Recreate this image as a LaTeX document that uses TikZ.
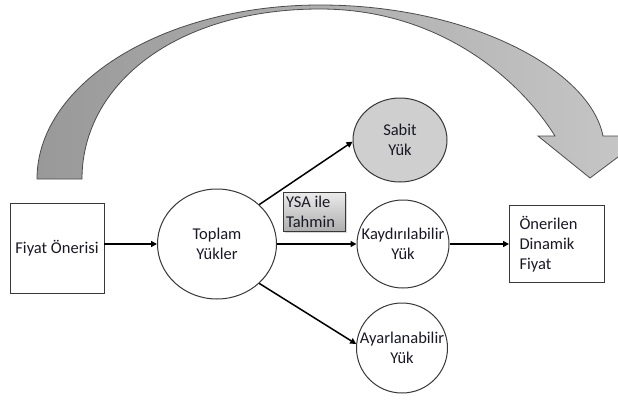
\documentclass[tikz,border=0pt]{standalone}
\usepackage{fontspec}
\setmainfont{Carlito}
\usetikzlibrary{arrows.meta,shapes.geometric,shadows}
\definecolor{ink}{rgb}{0.10,0.10,0.15}
\definecolor{edge}{rgb}{0.22,0.22,0.22}
\begin{document}
\begin{tikzpicture}[x=1pt,y=-1pt,
  font=\fontsize{16.5}{20}\selectfont, text=ink,
  loadcircle/.style={ellipse, draw=edge, line width=1pt, fill=white, inner sep=0pt},
  lbl/.style={align=center, text=ink},
  flowbox/.style={rectangle, draw=edge, line width=0.9pt, fill=white},
  conn/.style={line width=1.5pt, -{Triangle[length=6pt,width=6pt]}},
  bigarrow/.style={draw=black!70, line width=0.8pt, left color=black!40, right color=black!22}
]
\useasboundingbox (0,0) rectangle (618,399);
\clip (0,0) rectangle (618,399);
\fill[white] (0,0) rectangle (618,399);

% curved feedback arrow over the whole flow
\path[bigarrow]
  (37,179) .. controls (37,83) and (164,5) .. (320,5)
           .. controls (470,5) and (590,70) .. (603,136)
  -- (646,136) -- (590,178) -- (538,136) -- (555,136)
           .. controls (520,80) and (440,9) .. (320,9)
           .. controls (175,9) and (82,85) .. (82,179)
  -- cycle;

% boxes and load circles
\node[flowbox, minimum width=94pt, minimum height=90pt, inner sep=2pt] (fiyat) at (57,248) {Fiyat Önerisi};
\node[loadcircle, minimum width=119pt, minimum height=110pt,
      label={[lbl]center:Toplam\\Yükler}] (toplam) at (217,244) {};
\node[loadcircle, fill=black!19, minimum width=94pt, minimum height=84pt,
      label={[lbl]center:Sabit\\Yük}] (sabit) at (400,140) {};
\node[loadcircle, minimum width=92pt, minimum height=88pt,
      label={[lbl]center:Kaydırılabilir\\Yük}] (kaydir) at (403,244) {};
\node[loadcircle, minimum width=91pt, minimum height=90pt,
      label={[lbl]center:Ayarlanabilir\\Yük}] (ayar) at (402,348) {};
\node[draw=edge, line width=0.9pt, top color=black!8, bottom color=black!32,
      drop shadow={opacity=0.3, shadow xshift=1.5pt, shadow yshift=-1.5pt},
      text width=56pt, align=flush left, inner xsep=3pt, inner ysep=2pt, minimum height=39pt] (ysa) at (314,212) {YSA ile\\Tahmin};
\node[flowbox, text width=75pt, inner xsep=10pt, minimum height=77pt, align=flush left] (oner) at (557,244) {Önerilen\\Dinamik\\Fiyat};

% connectors
\draw[conn] (fiyat.east |- toplam.west) -- (toplam.west);
\draw[conn] (toplam.43) -- (sabit.182);
\draw[conn] (toplam.east) -- (kaydir.west);
\draw[conn] (toplam.-43) -- (ayar.175);
\draw[conn] (kaydir.east) -- (oner.west |- kaydir.east);
\end{tikzpicture}
\end{document}
